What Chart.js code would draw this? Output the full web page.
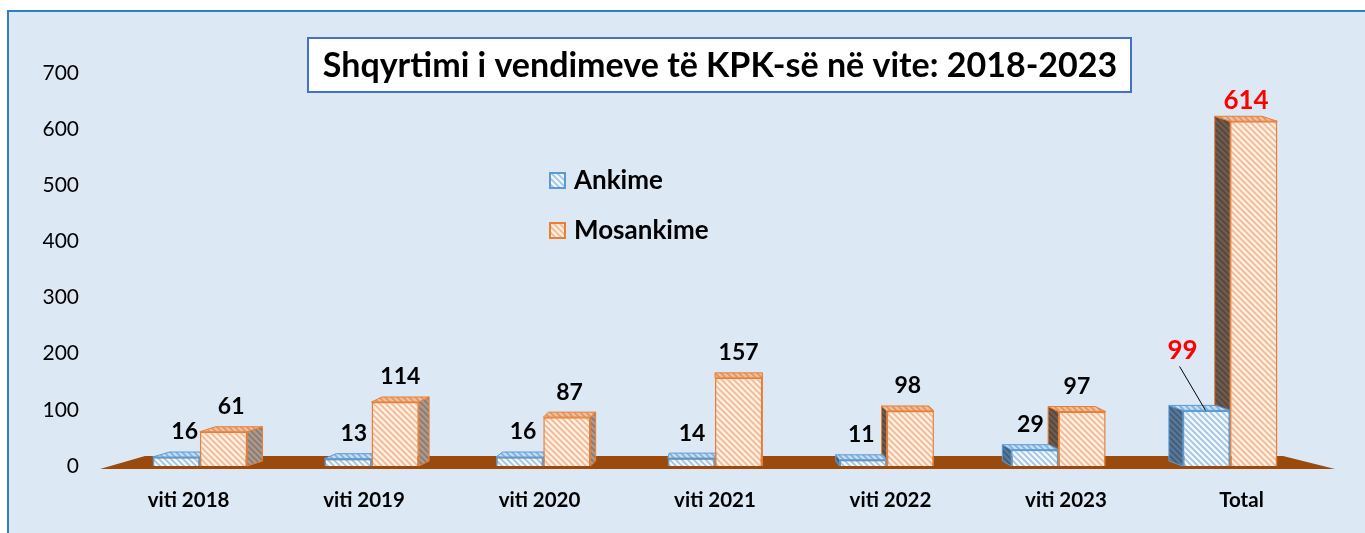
<!DOCTYPE html>
<html>
<head>
<meta charset="utf-8">
<script src="https://cdn.jsdelivr.net/npm/chart.js@4.4.0/dist/chart.umd.min.js"></script>
<style>
  html, body { margin: 0; padding: 0; background: #fff; overflow: hidden; }
  #wrap { position: relative; width: 1365px; height: 533px; }
</style>
</head>
<body>
<div id="wrap"><canvas id="chartKPK"></canvas></div>
<script>
// ===== TË DHËNAT =====
const kategorite = ['viti 2018', 'viti 2019', 'viti 2020', 'viti 2021', 'viti 2022', 'viti 2023', 'Total'];
const ankime = [16, 13, 16, 14, 11, 29, 99];
const mosankime = [61, 114, 87, 157, 98, 97, 614];
const yTicks = [0, 100, 200, 300, 400, 500, 600, 700];
const titulli = 'Shqyrtimi i vendimeve të KPK-së në vite: 2018-2023';

const FONT = "Lato, 'Open Sans', sans-serif";
const BG = '#dde8f5';

// mbushje me vija diagonale
function vija(bazë, ngjyrë) {
  const c = document.createElement('canvas');
  c.width = 6; c.height = 6;
  const g = c.getContext('2d');
  g.fillStyle = bazë;
  g.fillRect(0, 0, 6, 6);
  g.strokeStyle = ngjyrë;
  g.lineWidth = 1.6;
  g.beginPath();
  g.moveTo(-1, -1); g.lineTo(7, 7);
  g.moveTo(-4, 2); g.lineTo(2, 8);
  g.moveTo(2, -4); g.lineTo(8, 2);
  g.stroke();
  return g.createPattern(c, 'repeat');
}

const P = {
  blu: vija('#f2f7fc', '#9dc3e6'),
  bluTop: vija('#c6dcf0', '#7eaedb'),
  bluAna: vija('#5a7896', '#3f5b78'),
  bluAnaD: vija('#7d9cbc', '#6686a8'),
  port: vija('#fdf0e6', '#f5b58a'),
  portTop: vija('#efbf9c', '#d99565'),
  portAna: vija('#6e5c50', '#55463c'),
  portAnaD: vija('#a99a90', '#8a786c')
};

const STIL = [
  { front: P.blu, top: P.bluTop, ana: P.bluAna, anaD: P.bluAnaD, vije: '#5b9bd5' },
  { front: P.port, top: P.portTop, ana: P.portAna, anaD: P.portAnaD, vije: '#ed7d31' }
];

function thellesi(chart, x) {
  const a = chart.chartArea;
  const vx = a.left + 0.52 * (a.right - a.left);
  return { dx: 0.03 * (vx - x), dy: -5 };
}

function poli(c, pts, fill, stroke) {
  c.beginPath();
  c.moveTo(pts[0][0], pts[0][1]);
  for (let i = 1; i < pts.length; i++) c.lineTo(pts[i][0], pts[i][1]);
  c.closePath();
  c.fillStyle = fill;
  c.fill();
  c.strokeStyle = stroke;
  c.lineWidth = 1;
  c.stroke();
}

const sfondi = {
  id: 'sfondi',
  beforeDraw(chart) {
    const c = chart.ctx;
    c.save();
    c.fillStyle = '#fff';
    c.fillRect(0, 0, chart.width, chart.height);
    c.fillStyle = BG;
    c.fillRect(8, 11, chart.width - 8, chart.height - 11);
    c.strokeStyle = '#2f7fc8';
    c.lineWidth = 2;
    c.beginPath();
    c.moveTo(8, chart.height);
    c.lineTo(8, 11);
    c.lineTo(chart.width, 11);
    c.stroke();
    c.restore();
  }
};

const efekt3D = {
  id: 'efekt3D',
  beforeDatasetsDraw(chart) {
    const c = chart.ctx;
    const a = chart.chartArea;
    c.save();
    // dyshemeja
    c.fillStyle = '#9a4a0c';
    c.beginPath();
    c.moveTo(a.left - 14, a.bottom + 3);
    c.lineTo(a.left + 31, a.bottom - 10);
    c.lineTo(a.right - 33, a.bottom - 10);
    c.lineTo(a.right + 19, a.bottom + 3);
    c.closePath();
    c.fill();
    // faqet anësore dhe sipërme
    [1, 0].forEach(di => {
      const s = STIL[di];
      chart.getDatasetMeta(di).data.forEach(bar => {
        const p = bar.getProps(['x', 'y', 'base', 'width'], true);
        const l = p.x - p.width / 2, r = p.x + p.width / 2;
        const { dx, dy } = thellesi(chart, p.x);
        const ex = dx > 0 ? r : l;
        poli(c, [[ex, p.y], [ex + dx, p.y + dy], [ex + dx, p.base + dy], [ex, p.base]], dx > 0 ? s.anaD : s.ana, s.vije);
        poli(c, [[l, p.y], [r, p.y], [r + dx, p.y + dy], [l + dx, p.y + dy]], s.top, s.vije);
      });
    });
    c.restore();
  },
  afterDatasetsDraw(chart) {
    const c = chart.ctx;
    c.save();
    c.textAlign = 'center';
    c.textBaseline = 'middle';
    const last = kategorite.length - 1;
    [0, 1].forEach(di => {
      const vlerat = chart.data.datasets[di].data;
      chart.getDatasetMeta(di).data.forEach((bar, i) => {
        const p = bar.getProps(['x', 'y'], true);
        const { dx } = thellesi(chart, p.x);
        let lx = p.x + dx / 2, ly = p.y - 25;
        if (i === last) {
          c.fillStyle = '#ff0000';
          c.font = `bold 26px ${FONT}`;
          if (di === 0) {
            lx = p.x - 24; ly = p.y - 60;
            c.strokeStyle = '#000';
            c.lineWidth = 1;
            c.beginPath();
            c.moveTo(lx - 3, ly + 16);
            c.lineTo(p.x - 1, p.y);
            c.stroke();
          } else {
            ly = p.y - 21;
          }
        } else {
          c.fillStyle = '#000';
          c.font = `bold 23px ${FONT}`;
        }
        c.fillText(vlerat[i], lx, ly);
      });
    });
    c.restore();
  },
  afterDraw(chart) {
    const c = chart.ctx;
    const a = chart.chartArea;
    c.save();
    // etiketat e kategorive, pak të zhvendosura nga perspektiva
    const sx = chart.scales.x;
    const qx = (a.left + a.right) / 2;
    c.font = `bold 20.5px ${FONT}`;
    c.fillStyle = '#000';
    c.textAlign = 'center';
    c.textBaseline = 'middle';
    kategorite.forEach((k, i) => {
      const px = sx.getPixelForValue(i);
      c.fillText(k, px + 0.022 * (px - qx), a.bottom + 34);
    });
    // titulli në kuti
    c.fillStyle = '#fff';
    c.fillRect(308, 38, 823, 54);
    c.strokeStyle = '#4472c4';
    c.lineWidth = 2;
    c.strokeRect(308, 38, 823, 54);
    c.font = `bold 28px ${FONT}`;
    const w = c.measureText(titulli).width;
    const fs = Math.min(34, 28 * 800 / w);
    c.font = `bold ${fs}px ${FONT}`;
    c.fillStyle = '#000';
    c.fillText(titulli, 720, 66);
    // legjenda
    c.textAlign = 'left';
    c.font = `bold 26px ${FONT}`;
    chart.data.datasets.forEach((ds, i) => {
      const y = 180 + i * 50;
      c.fillStyle = STIL[i].front;
      c.fillRect(550, y - 7, 15, 15);
      c.strokeStyle = STIL[i].vije;
      c.lineWidth = 2;
      c.strokeRect(550, y - 7, 15, 15);
      c.fillStyle = '#000';
      c.fillText(ds.label, 574, y + 1);
    });
    c.restore();
  }
};

new Chart(document.getElementById('chartKPK'), {
  type: 'bar',
  data: {
    labels: kategorite,
    datasets: [
      { label: 'Ankime', data: ankime, backgroundColor: P.blu, borderColor: '#5b9bd5', borderWidth: 1.5 },
      { label: 'Mosankime', data: mosankime, backgroundColor: P.port, borderColor: '#ed7d31', borderWidth: 1.5 }
    ]
  },
  options: {
    responsive: true,
    maintainAspectRatio: false,
    animation: false,
    layout: { padding: { left: 39, right: 49, top: 73, bottom: 0 } },
    datasets: { bar: { categoryPercentage: 0.55, barPercentage: 1 } },
    plugins: {
      legend: { display: false },
      title: { display: false },
      tooltip: { enabled: false }
    },
    scales: {
      x: {
        grid: { display: false, drawTicks: false },
        border: { display: false },
        ticks: { display: false },
        afterFit(s) { s.height = 67; }
      },
      y: {
        min: 0, max: 700,
        afterBuildTicks(s) { s.ticks = yTicks.map(v => ({ value: v })); },
        grid: { display: false, drawTicks: false },
        border: { display: false },
        ticks: { color: '#000', font: { family: FONT, size: 21 }, padding: 35 },
        afterFit(s) { s.width = 75; }
      }
    }
  },
  plugins: [sfondi, efekt3D]
});
</script>
</body>
</html>
